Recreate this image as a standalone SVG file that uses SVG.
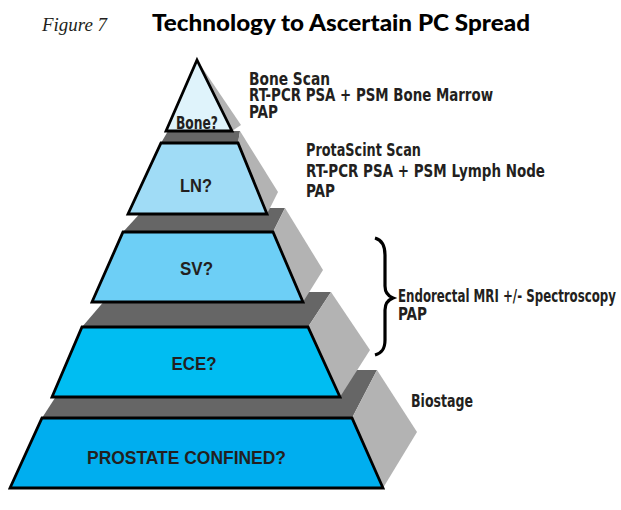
<svg xmlns="http://www.w3.org/2000/svg" width="621" height="510" viewBox="0 0 621 510">
<style>
.top{fill:#666666}
.side{fill:#b3b3b3}
.front{stroke:#000;stroke-width:2.8;stroke-linejoin:miter}
.lbl{font-family:"Liberation Sans",Arial,sans-serif;font-weight:bold;fill:#231f20;text-anchor:middle;font-size:18.5px}
.note{font-family:"Liberation Sans Narrow","DejaVu Sans Condensed","Liberation Sans",sans-serif;font-weight:bold;fill:#231f20;font-size:17.5px}
</style>
<rect width="621" height="510" fill="#fff"/>
<g id="title">
<text x="42" y="31" font-family="Liberation Serif,serif" font-style="italic" font-size="19" fill="#231f20" textLength="65" lengthAdjust="spacingAndGlyphs">Figure 7</text>
<text x="152" y="31" font-family="Lato,'DejaVu Sans',sans-serif" font-weight="900" font-size="23" fill="#000" textLength="378" lengthAdjust="spacingAndGlyphs">Technology to Ascertain PC Spread</text>
</g>
<g id="level-prostate">
<polygon class="top" points="42,418 73,370 377,370 352,418"/>
<polygon class="side" points="352,418 377,370 417,432 383,488"/>
<polygon class="front" fill="#00aeef" points="42,418 352,418 383,488 10,488"/>
<text class="lbl" x="186.5" y="464" textLength="199" lengthAdjust="spacingAndGlyphs">PROSTATE CONFINED?</text>
</g>
<g id="level-ece">
<polygon class="top" points="82,327 112,292 331,292 308,327"/>
<polygon class="side" points="308,327 331,292 370,350 340,397"/>
<polygon class="front" fill="#00bdf2" points="82,327 308,327 340,397 52,397"/>
<text class="lbl" x="194" y="370" textLength="45" lengthAdjust="spacingAndGlyphs">ECE?</text>
</g>
<g id="level-sv">
<polygon class="top" points="123,232 145,208 285,208 273,232"/>
<polygon class="side" points="273,232 285,208 323,270 303,302"/>
<polygon class="front" fill="#6dcff6" points="123,232 273,232 303,302 92,302"/>
<text class="lbl" x="196.5" y="275" textLength="33" lengthAdjust="spacingAndGlyphs">SV?</text>
</g>
<g id="level-ln">
<polygon class="top" points="161,143 168,131 240,131 238,143"/>
<polygon class="side" points="238,143 240,131 278,192 267,214"/>
<polygon class="front" fill="#a0dcf6" points="161,143 238,143 267,214 128,214"/>
<text class="lbl" x="196" y="192" textLength="32" lengthAdjust="spacingAndGlyphs">LN?</text>
</g>
<g id="level-bone">
<polygon class="side" points="197,60 241,125 232,131"/>
<polygon class="front" fill="#dff3fb" points="197,60 232,131 166,131"/>
<text class="note" x="197" y="128.5" text-anchor="middle" textLength="42" lengthAdjust="spacingAndGlyphs">Bone?</text>
</g>
<g id="notes-bone">
<text class="note" x="249" y="84.5" textLength="81" lengthAdjust="spacingAndGlyphs">Bone Scan</text>
<text class="note" x="249" y="101" textLength="244" lengthAdjust="spacingAndGlyphs">RT-PCR  PSA + PSM Bone Marrow</text>
<text class="note" x="249" y="117.5" textLength="29" lengthAdjust="spacingAndGlyphs">PAP</text>
</g>
<g id="notes-ln">
<text class="note" x="306" y="156" textLength="115" lengthAdjust="spacingAndGlyphs">ProtaScint Scan</text>
<text class="note" x="306" y="177" textLength="239" lengthAdjust="spacingAndGlyphs">RT-PCR  PSA + PSM Lymph Node</text>
<text class="note" x="306" y="197" textLength="29" lengthAdjust="spacingAndGlyphs">PAP</text>
</g>
<g id="notes-sv-ece">
<text class="note" x="398" y="301.5" textLength="218" lengthAdjust="spacingAndGlyphs">Endorectal MRI +/- Spectroscopy</text>
<text class="note" x="398" y="320" textLength="29" lengthAdjust="spacingAndGlyphs">PAP</text>
</g>
<g id="notes-prostate">
<text class="note" x="411" y="406.5" textLength="62" lengthAdjust="spacingAndGlyphs">Biostage</text>
</g>
<g id="connectors">
<path d="M375,238 C382,240 385,245 385,255 L385,286 C385,293 388,296 393,298 C388,300 385,303 385,310 L385,340 C385,349 382,353 375,355" fill="none" stroke="#000" stroke-width="3.2"/>
</g>
</svg>
